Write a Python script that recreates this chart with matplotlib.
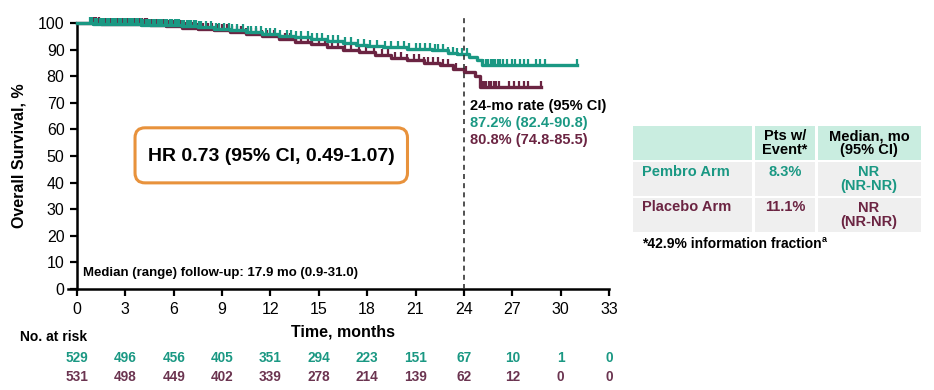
import numpy as np
import matplotlib
matplotlib.use("Agg")
import matplotlib.pyplot as plt
from matplotlib.patches import FancyBboxPatch, Rectangle
from matplotlib.transforms import blended_transform_factory

plt.rcParams['font.family'] = ['Liberation Sans', 'DejaVu Sans']

# ---- data ----
pembro_t = [0, 1.0, 2.5, 4.0, 5.5, 6.5, 7.5, 8.5, 9.5, 10.5, 11.5, 12.5, 13.5, 14.5,
            15.5, 16.5, 17.3, 18.0, 19.0, 20.5, 22.0, 23.0, 23.6, 24.3, 24.8, 25.1, 31.0]
pembro_s = [100, 99.8, 99.6, 99.4, 99.2, 98.9, 98.5, 97.9, 97.3, 96.6, 95.8, 95.2, 94.6, 93.9,
            93.2, 92.6, 91.9, 91.3, 90.8, 90.3, 89.8, 88.9, 88.2, 87.4, 86.0, 84.2, 84.2]
placebo_t = [0, 1.5, 3.0, 4.5, 5.5, 6.5, 7.5, 8.5, 9.5, 10.5, 11.5, 12.5, 13.5, 14.5,
             15.5, 16.5, 17.5, 18.5, 19.5, 20.5, 21.5, 22.5, 23.3, 24.0, 24.7, 25.0, 28.8]
placebo_s = [100, 99.8, 99.5, 99.2, 98.8, 98.3, 97.8, 97.2, 96.5, 95.8, 95.0, 94.0, 93.0, 92.0,
             91.0, 90.0, 89.0, 88.0, 87.0, 86.0, 85.0, 84.2, 82.6, 81.4, 79.9, 76.0, 76.0]

pembro_cens = [0.8, 0.95, 1.1, 1.25, 1.4, 1.55, 1.7, 1.85, 2.0, 2.15, 2.3, 2.45, 2.6, 2.75,
               2.9, 3.05, 3.2, 3.35, 3.5, 3.65, 3.8, 3.95, 4.1, 4.25, 4.4, 4.55, 4.7, 4.85,
               5.0, 5.15, 5.3, 5.45, 5.6, 5.75, 5.9, 6.05, 6.2, 6.35, 6.5, 6.65, 6.8, 6.95,
               7.1, 7.25, 7.4, 7.55, 7.7, 8.0, 8.3, 8.6, 8.8, 9.1, 9.4, 9.6, 9.9, 10.3, 10.6,
               10.8, 11.1, 11.4, 11.7, 12.0, 12.3, 12.6, 13.0, 13.3, 13.6, 13.9, 14.3, 14.6,
               14.9, 15.2, 15.6, 15.9, 16.2, 16.6, 17.0, 17.4, 17.8, 18.2, 18.6, 19.1, 19.5,
               19.9, 20.3, 20.6, 21.0, 21.3, 21.6, 21.9, 22.2, 22.4, 22.7, 23.0, 23.3, 23.6,
               23.9, 24.2, 25.2, 25.35, 25.5, 25.65, 25.8, 25.95, 26.1, 26.25, 26.4, 26.7,
               27.0, 27.2, 27.5, 27.7, 28.0, 28.5, 28.7, 29.0, 31.0]
placebo_cens = [0.9, 1.05, 1.2, 1.35, 1.5, 1.65, 1.8, 1.95, 2.1, 2.25, 2.4, 2.55, 2.7, 2.85,
                3.0, 3.15, 3.3, 3.45, 3.6, 3.75, 3.9, 4.05, 4.2, 4.35, 4.5, 4.65, 4.8, 4.95,
                5.1, 5.25, 5.4, 5.55, 5.7, 5.85, 6.0, 6.15, 6.3, 6.45, 6.6, 6.75, 6.9, 7.05,
                7.2, 7.35, 7.5, 7.8, 8.1, 8.4, 8.7, 9.0, 9.3, 9.6, 9.9, 10.2, 10.5, 10.8,
                11.1, 11.5, 11.8, 12.2, 12.5, 12.9, 13.2, 13.6, 13.9, 14.3, 14.6, 15.0, 15.4,
                15.8, 16.2, 16.6, 17.0, 17.5, 17.9, 18.4, 18.9, 19.3, 19.7, 20.1, 20.5, 20.9,
                21.2, 21.5, 21.8, 22.1, 22.4, 22.7, 23.0, 23.5, 24.1, 25.1, 25.25, 25.4, 25.55,
                25.7, 25.85, 26.0, 26.2, 26.8, 27.1, 27.4, 27.7, 28.0, 28.8]

risk_times = [0, 3, 6, 9, 12, 15, 18, 21, 24, 27, 30, 33]
pembro_risk = [529, 496, 456, 405, 351, 294, 223, 151, 67, 10, 1, 0]
placebo_risk = [531, 498, 449, 402, 339, 278, 214, 139, 62, 12, 0, 0]

TEAL = '#1a9883'
MAROON = '#6b2442'


def surv_at(times, surv, t):
    i = np.searchsorted(times, t, side='right') - 1
    return np.asarray(surv)[i]


fig = plt.figure(figsize=(9.34, 3.9), dpi=100)
ax = fig.add_axes([77 / 934, 1 - 289 / 390, 532 / 934, 266 / 390])

for t, s, c, col in [(placebo_t, placebo_s, placebo_cens, MAROON),
                     (pembro_t, pembro_s, pembro_cens, TEAL)]:
    ax.step(t, s, where='post', color=col, lw=2.4, clip_on=False, zorder=3)
    cy = [surv_at(t, s, x) for x in c]
    ax.plot(c, cy, ls='none', marker=2, ms=4, mew=1.6, color=col, clip_on=False, zorder=3)

ax.plot([24, 24], [0, 102.5], ls=(0, (3, 2.5)), color='#333333', lw=1.2, clip_on=False, zorder=4)

ax.set_xlim(0, 33)
ax.set_ylim(0, 100)
ax.set_xticks(risk_times)
ax.set_yticks(range(0, 101, 10))
ax.tick_params(labelsize=11.5, width=1.6, length=5, direction='out', pad=4)
for sp in ['top', 'right']:
    ax.spines[sp].set_visible(False)
ax.spines['left'].set_linewidth(1.8)
ax.spines['bottom'].set_linewidth(1.8)
ax.spines['bottom'].set_bounds(-0.55, 33)
ax.set_ylabel('Overall Survival, %', fontsize=11.5, fontweight='bold', labelpad=8)
ax.set_xlabel('Time, months', fontsize=11.5, fontweight='bold', labelpad=6)

ax.text(0.35, 3.8, 'Median (range) follow-up: 17.9 mo (0.9-31.0)', fontsize=9.5,
        fontweight='bold', va='bottom', ha='left')

# HR box
ax.add_patch(FancyBboxPatch((3.6, 39.9), 16.9, 20.7,
                            boxstyle='round,pad=0,rounding_size=0.62', mutation_aspect=6.0,
                            fc='white', ec='#e8923c', lw=2.2, zorder=5))
ax.text(12.05, 49.8, 'HR 0.73 (95% CI, 0.49-1.07)', fontsize=14, fontweight='bold',
        ha='center', va='center', zorder=6)

# 24-mo rates
ax.text(24.4, 68.8, '24-mo rate (95% CI)', fontsize=10.5, fontweight='bold', ha='left', va='center')
ax.text(24.4, 62.5, '87.2% (82.4-90.8)', fontsize=10.5, fontweight='bold', color=TEAL, ha='left', va='center')
ax.text(24.4, 56.1, '80.8% (74.8-85.5)', fontsize=10.5, fontweight='bold', color=MAROON, ha='left', va='center')

# number at risk
fig.text(20 / 934, 1 - 337 / 390, 'No. at risk', fontsize=10, fontweight='bold', va='center')
risk_tr = blended_transform_factory(ax.transData, fig.transFigure)
for x, a, b in zip(risk_times, pembro_risk, placebo_risk):
    ax.text(x, 1 - 358 / 390, str(a), transform=risk_tr, fontsize=9.8, fontweight='bold',
            color=TEAL, ha='center', va='center')
    ax.text(x, 1 - 377 / 390, str(b), transform=risk_tr, fontsize=9.8, fontweight='bold',
            color='#6b3450', ha='center', va='center')

# table on right, drawn in pixel coords
ov = fig.add_axes([0, 0, 1, 1], zorder=-1)
ov.set_xlim(0, 934)
ov.set_ylim(390, 0)
ov.axis('off')
cols = [(633, 752), (755, 815), (818, 921)]
rows = [(126, 160, '#c9ede0'), (162, 196, '#efefef'), (198, 232, '#efefef')]
for (y0, y1, fc) in rows:
    for (x0, x1) in cols:
        ov.add_patch(Rectangle((x0, y0), x1 - x0, y1 - y0, fc=fc, ec='none'))

fs = 10.5
hdr = dict(fontsize=fs, fontweight='bold', ha='center', va='center', linespacing=0.95)
ov.text(785, 143, 'Pts w/\nEvent*', **hdr)
ov.text(869, 143, 'Median, mo\n(95% CI)', **hdr)
ov.text(642, 172, 'Pembro Arm', fontsize=fs, fontweight='bold', color=TEAL, va='center')
ov.text(785, 172, '8.3%', fontsize=fs, fontweight='bold', color=TEAL, ha='center', va='center')
ov.text(869, 179, 'NR\n(NR-NR)', fontsize=fs, fontweight='bold', color=TEAL, ha='center',
        va='center', linespacing=0.95)
ov.text(642, 207, 'Placebo Arm', fontsize=fs, fontweight='bold', color=MAROON, va='center')
ov.text(785, 207, '11.1%', fontsize=fs, fontweight='bold', color=MAROON, ha='center', va='center')
ov.text(869, 215, 'NR\n(NR-NR)', fontsize=fs, fontweight='bold', color=MAROON, ha='center',
        va='center', linespacing=0.95)
ov.text(642, 244, '*42.9% information fraction', fontsize=10, fontweight='bold', va='center')
ov.text(822, 240, 'a', fontsize=6.5, fontweight='bold', va='center')

fig.savefig('out.png', dpi=100)
